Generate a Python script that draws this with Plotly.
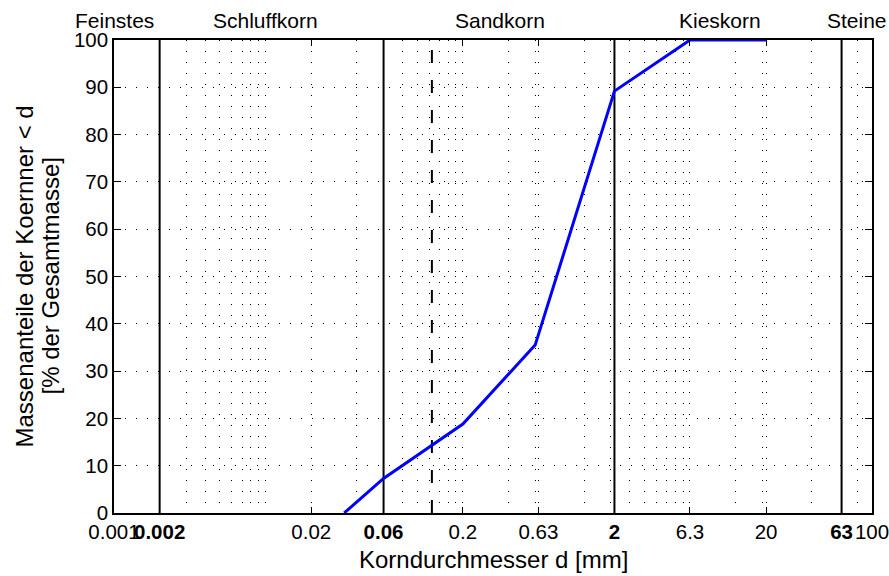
import math
import plotly.graph_objects as go

# ---------------- data ----------------
d_mm = [0.033, 0.06, 0.2, 0.6, 2, 6.3, 20]
passing = [0, 7.3, 18.8, 35.5, 89.2, 100, 100]

boundaries = [0.002, 0.06, 2, 63]
d_marker = [0.125]

tick_vals = [0.001, 0.002, 0.02, 0.06, 0.2, 0.63, 2, 6.3, 20, 63, 100]
tick_text = ["0.001", "<b>0.002</b>", "0.02", "<b>0.06</b>", "0.2", "0.63",
             "<b>2</b>", "6.3", "20", "<b>63</b>", "100"]
minor_grid = [0.003, 0.004, 0.005, 0.006, 0.007, 0.008, 0.009, 0.01,
              0.04, 0.08, 0.1, 0.12, 0.14, 0.16, 0.18, 0.4, 0.6,
              1.26, 1.89, 2.52, 3.15, 3.78, 4.41, 5.04, 5.67, 12.6, 18.9, 40, 80]
y_ticks = [0, 10, 20, 30, 40, 50, 60, 70, 80, 90, 100]

class_names = ["Feinstes", "Schluffkorn", "Sandkorn", "Kieskorn", "Steine"]
class_pos = [0.001, 0.01, 0.35, 10, 80]

x_title = "Korndurchmesser d [mm]"
y_title_lines = ["Massenanteile der Koernner &lt; d", "[% der Gesamtmasse]"]

FONT = "Liberation Sans, Arial, Helvetica, sans-serif"
DOTS = "1px,10px"
TICK_SIZE = 20.5

fig = go.Figure()

for b in boundaries:
    fig.add_trace(go.Scatter(x=[b, b], y=[0, 100], mode="lines",
                             line=dict(color="black", width=2),
                             hoverinfo="skip", showlegend=False))
for b in d_marker:
    fig.add_trace(go.Scatter(x=[b, b], y=[0, 100], mode="lines",
                             line=dict(color="black", width=2, dash="13px,17px"),
                             hoverinfo="skip", showlegend=False))

fig.add_trace(go.Scatter(x=d_mm, y=passing, mode="lines",
                         line=dict(color="#0000ff", width=3),
                         showlegend=False))

annotations = []
for name, pos in zip(class_names, class_pos):
    annotations.append(dict(text=name, x=math.log10(pos), xref="x",
                            y=1.041, yref="paper", xanchor="center",
                            yanchor="middle", showarrow=False,
                            font=dict(size=21, color="black", family=FONT)))

annotations.append(dict(text=x_title, x=0.5, xref="paper", y=-0.099, yref="paper",
                        xanchor="center", yanchor="middle", showarrow=False,
                        font=dict(size=24, color="black", family=FONT)))
for line, px in zip(y_title_lines, [24, 50]):
    annotations.append(dict(text=line, x=(px - 114) / 758, xref="paper",
                            y=0.5, yref="paper", textangle=-90,
                            xanchor="center", yanchor="middle", showarrow=False,
                            font=dict(size=24, color="black", family=FONT)))

fig.update_layout(
    width=889, height=576,
    margin=dict(l=114, r=17, t=40, b=63, autoexpand=False),
    paper_bgcolor="white", plot_bgcolor="white",
    font=dict(family=FONT, color="black", size=TICK_SIZE),
    showlegend=False,
    annotations=annotations,
    xaxis=dict(
        type="log", range=[-3, 2], automargin=False,
        tickmode="array", tickvals=tick_vals, ticktext=tick_text,
        tickangle=0, ticks="inside", ticklen=6, tickwidth=1, tickcolor="black",
        ticklabeloverflow="allow",
        showline=True, linecolor="black", linewidth=1.5, mirror="ticks",
        showgrid=True, gridcolor="black", gridwidth=1, griddash=DOTS,
        zeroline=False, tickfont=dict(size=TICK_SIZE, color="black", family=FONT),
        minor=dict(tickmode="array", tickvals=minor_grid, showgrid=True,
                   gridcolor="black", gridwidth=1, griddash=DOTS, ticks=""),
    ),
    yaxis=dict(
        range=[0, 100], tickmode="array", tickvals=y_ticks, automargin=False,
        ticks="inside", ticklen=7, tickwidth=1, tickcolor="black",
        ticklabeloverflow="allow",
        showline=True, linecolor="black", linewidth=1.5, mirror="ticks",
        showgrid=True, gridcolor="black", gridwidth=1, griddash=DOTS,
        zeroline=False, tickfont=dict(size=TICK_SIZE, color="black", family=FONT),
    ),
)

fig.write_html("out.html",
               config={"displayModeBar": False},
               post_script="document.body.style.margin='0';"
                           "document.body.style.overflow='hidden';")
